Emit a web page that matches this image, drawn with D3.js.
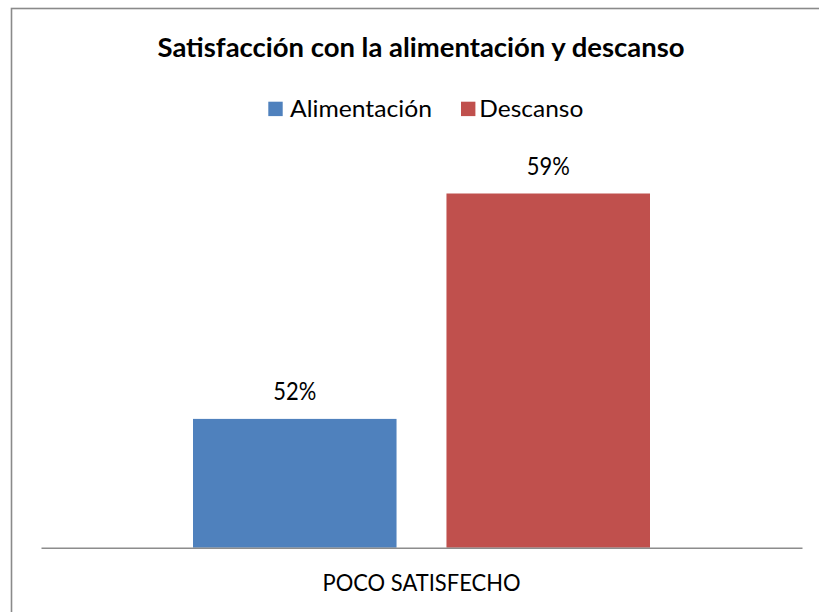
<!DOCTYPE html>
<html>
<head>
<meta charset="utf-8">
<script src="https://cdn.jsdelivr.net/npm/d3@7"></script>
<style>
  html, body { margin: 0; padding: 0; background: #ffffff; }
  svg { display: block; }
  text { font-family: Lato, "Open Sans", "Liberation Sans", sans-serif; fill: #000; }
</style>
</head>
<body>
<svg id="chart" width="819" height="612"></svg>
<script>
// ---- data ----
const categories = ["POCO SATISFECHO"];
const seriesNames = ["Alimentación", "Descanso"];
const alimentacion = [52];
const descanso = [59];
const seriesColors = ["#4F81BD", "#C0504D"];
const titleText = "Satisfacción con la alimentación y descanso";
const yDomain = [48, 60];

const rows = categories.map((c, i) => ({
  category: c,
  values: [
    { series: seriesNames[0], value: alimentacion[i] },
    { series: seriesNames[1], value: descanso[i] }
  ]
}));

const svg = d3.select("#chart");

// outer border (extends past right/bottom edges as in the reference)
svg.append("rect")
  .attr("x", 11.5).attr("y", 8.5)
  .attr("width", 830).attr("height", 620)
  .attr("fill", "#fff")
  .attr("stroke", "#8a8a8a")
  .attr("stroke-width", 1.6);

// plot geometry
const plot = { left: 41, right: 802, top: 161.3, bottom: 547.7 };

const x0 = d3.scaleBand()
  .domain(categories)
  .range([plot.left, plot.right])
  .paddingInner(0)
  .paddingOuter(0.3326);

const x1 = d3.scaleBand()
  .domain(seriesNames)
  .range([0, x0.bandwidth()])
  .paddingInner(0.197)
  .paddingOuter(0);

const y = d3.scaleLinear()
  .domain(yDomain)
  .range([plot.bottom, plot.top]);

const color = d3.scaleOrdinal().domain(seriesNames).range(seriesColors);

// title
svg.append("text")
  .attr("x", 421).attr("y", 57)
  .attr("text-anchor", "middle")
  .attr("font-weight", "bold")
  .attr("font-size", 26.5)
  .attr("textLength", 527)
  .attr("lengthAdjust", "spacingAndGlyphs")
  .text(titleText);

// legend
const legendItems = [
  { name: seriesNames[0], sx: 268.3, tx: 290, len: 142 },
  { name: seriesNames[1], sx: 461, tx: 479.3, len: 104 }
];
const lg = svg.append("g");
legendItems.forEach(it => {
  lg.append("rect")
    .attr("x", it.sx).attr("y", 101.7)
    .attr("width", 14.4).attr("height", 14.4)
    .attr("fill", color(it.name));
  lg.append("text")
    .attr("x", it.tx).attr("y", 116.5)
    .attr("font-size", 23)
    .attr("textLength", it.len)
    .attr("lengthAdjust", "spacingAndGlyphs")
    .text(it.name);
});

// bars
const groups = svg.append("g").selectAll("g")
  .data(rows).join("g")
  .attr("transform", d => `translate(${x0(d.category)},0)`);

groups.selectAll("rect")
  .data(d => d.values).join("rect")
  .attr("x", d => x1(d.series))
  .attr("y", d => y(d.value))
  .attr("width", x1.bandwidth())
  .attr("height", d => y(yDomain[0]) - y(d.value))
  .attr("fill", d => color(d.series));

// data labels
groups.selectAll("text.lbl")
  .data(d => d.values).join("text")
  .attr("class", "lbl")
  .attr("x", d => x1(d.series) + x1.bandwidth() / 2)
  .attr("y", d => y(d.value) - 18.5)
  .attr("text-anchor", "middle")
  .attr("font-size", 24.5)
  .attr("textLength", 43)
  .attr("lengthAdjust", "spacingAndGlyphs")
  .text(d => d.value + "%");

// category axis
const axis = svg.append("g")
  .attr("transform", `translate(0,${plot.bottom})`)
  .call(d3.axisBottom(x0).tickSize(0).tickSizeOuter(0));
axis.select(".domain")
  .attr("stroke", "#8c8c8c")
  .attr("stroke-width", 1.5);
axis.selectAll(".tick text")
  .attr("y", 43)
  .attr("dy", 0)
  .attr("font-size", 23)
  .attr("font-family", 'Lato, "Open Sans", sans-serif')
  .attr("fill", "#000")
  .attr("textLength", 198)
  .attr("lengthAdjust", "spacingAndGlyphs");
</script>
</body>
</html>
